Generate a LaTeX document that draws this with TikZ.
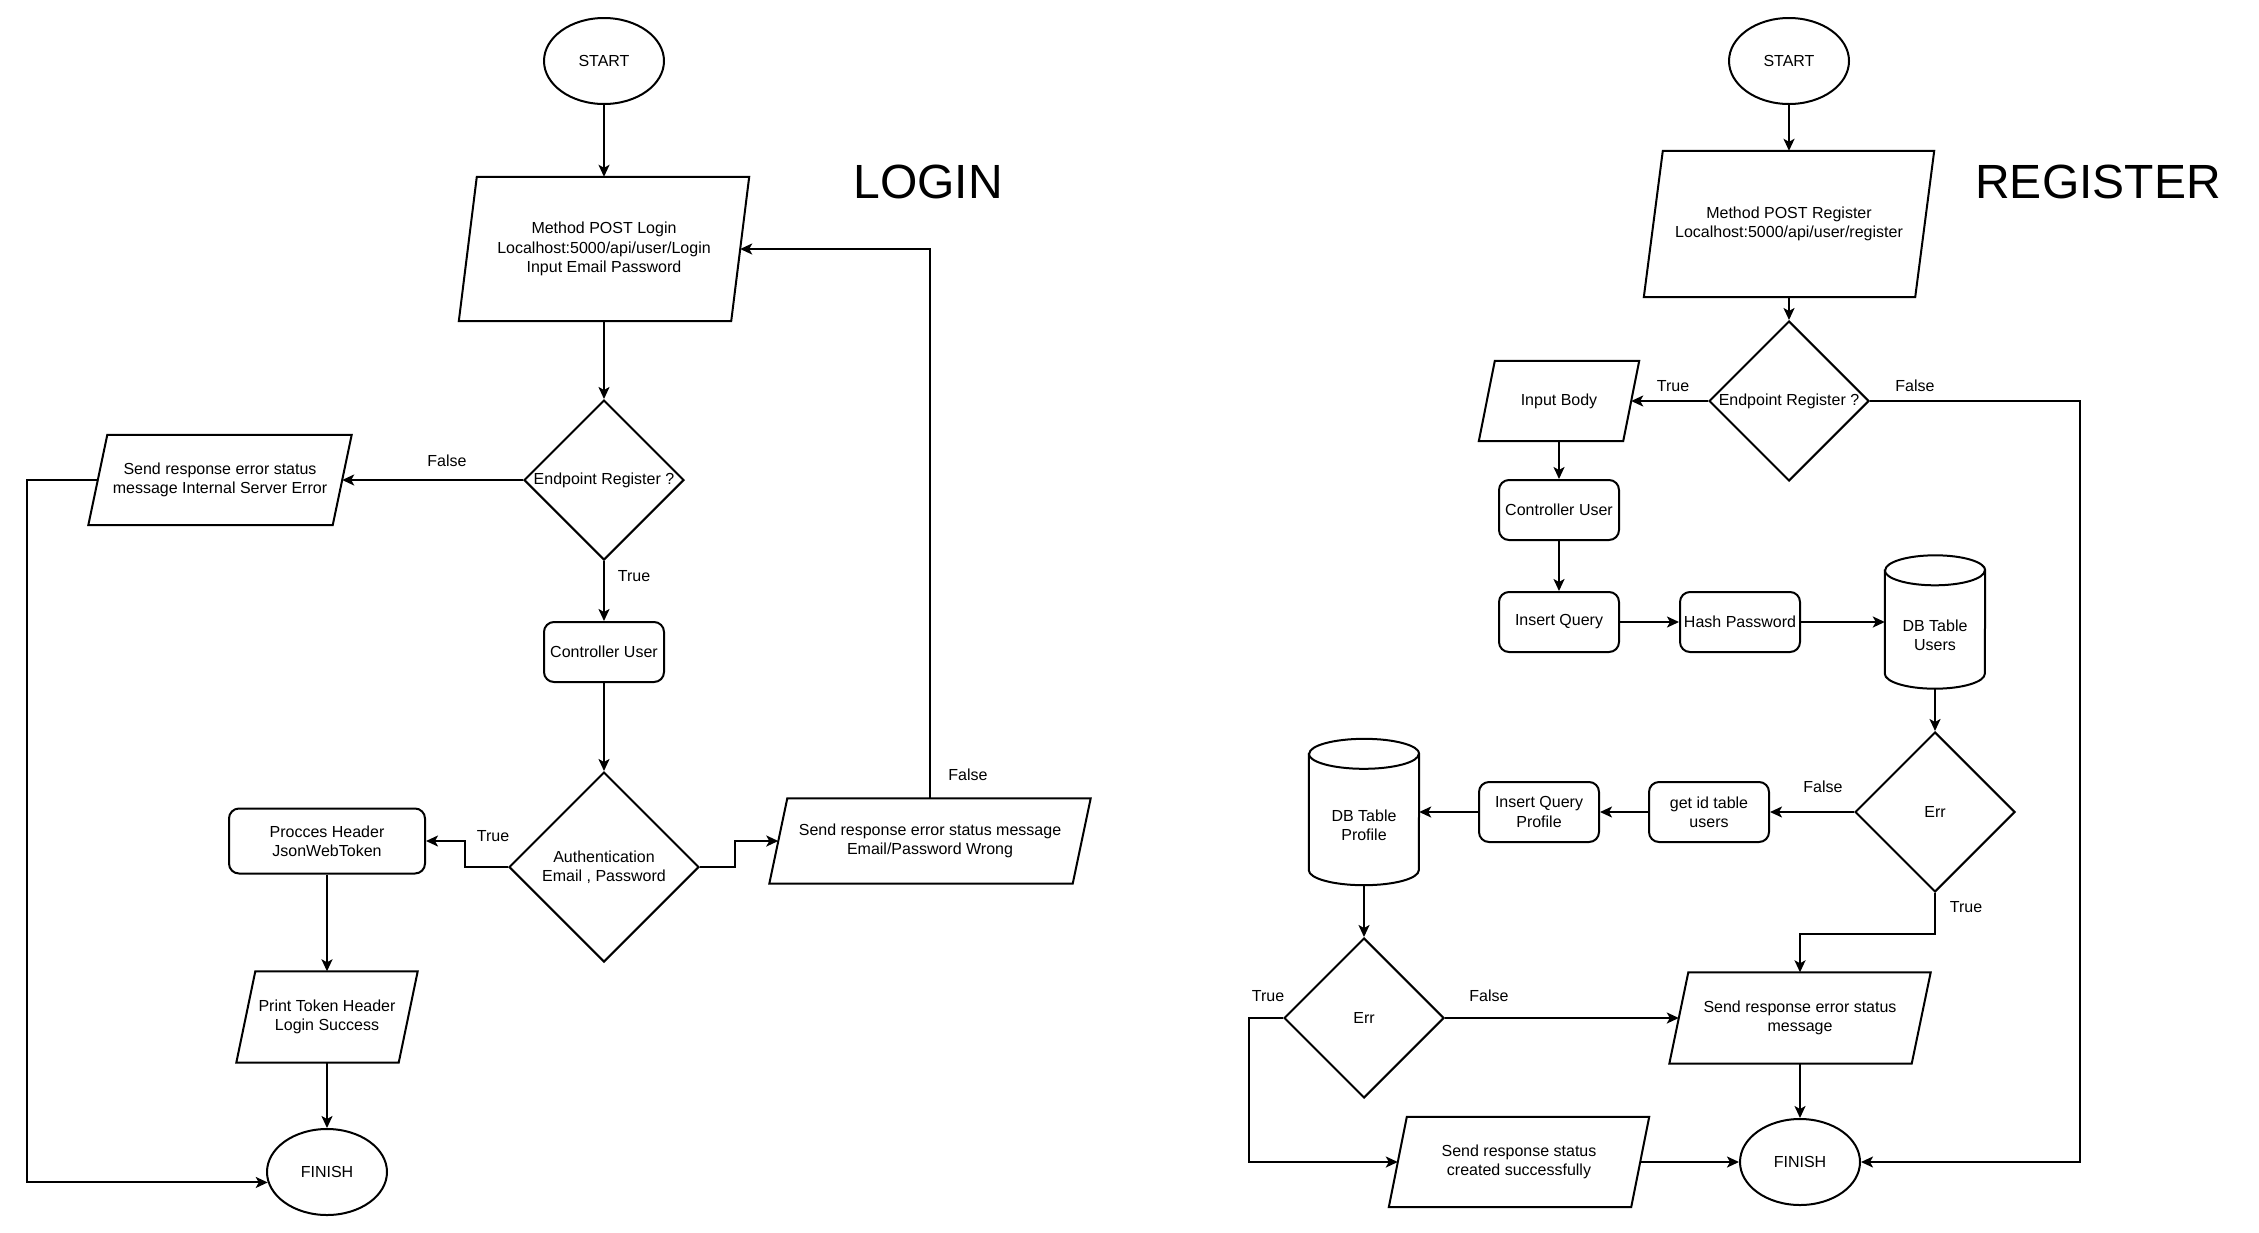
\documentclass[tikz,border=0pt]{standalone}
\usepackage{fontspec}
\setmainfont{Liberation Sans}
\usetikzlibrary{shapes.geometric,arrows.meta,calc}
\tikzset{
  txt/.style={font=\fontsize{16}{19.2}\selectfont, align=center, inner sep=0pt},
  shp/.style={line width=2pt},
  term/.style={txt, ellipse, draw, shp, minimum width=120pt, minimum height=86pt},
  proc/.style={txt, draw, shp, rounded corners=10pt, minimum width=120pt, minimum height=60pt},
  decision/.style={txt, diamond, draw, shp, aspect=1, minimum width=160pt, minimum height=160pt},
  ghost/.style={txt, draw=none},
  lbl/.style={txt},
  arr/.style={line width=2pt, -{Stealth[length=12pt,width=11pt,inset=3pt]}},
  bigtitle/.style={font=\fontsize{48}{58}\selectfont, inner sep=0pt, anchor=base},
}
\newcommand\pgram[7]{%
  \node[txt, minimum width=#4pt, minimum height=#5pt] (#1) at (#2,-#3) {#7};
  \draw[shp] ([xshift=#6pt]#1.north west) -- (#1.north east) -- ([xshift=-#6pt]#1.south east) -- (#1.south west) -- cycle;
  \coordinate (#1-w) at ([xshift=#6pt/2]#1.west);
  \coordinate (#1-e) at ([xshift=-#6pt/2]#1.east);
}
\newcommand\dbcyl[6]{%
  \node[ghost, minimum width=#4pt, minimum height=#5pt] (#1) at (#2,-#3) {};
  \draw[shp] ([yshift=-15pt]#1.north west) -- ([yshift=15pt]#1.south west)
     arc[start angle=180, end angle=360, x radius=#4pt/2, y radius=15pt]
     -- ([yshift=-15pt]#1.north east)
     arc[start angle=0, end angle=180, x radius=#4pt/2, y radius=15pt] -- cycle;
  \draw[shp] ([yshift=-15pt]#1.north west) arc[start angle=180, end angle=360, x radius=#4pt/2, y radius=15pt];
  \node[txt] (#1-t) at ([yshift=-13pt]#1.center) {#6};
}
\begin{document}
\begin{tikzpicture}[x=1pt,y=1pt]
\fill[white] (0,0) rectangle (2259,-1232);
\useasboundingbox (0,0) rectangle (2259,-1232);

% ---------------- LOGIN ----------------
\node[term] (start1) at (604,-61) {START};
\pgram{method1}{604}{249}{290}{144}{18}{Method POST Login\\Localhost:5000/api/user/Login\\Input Email Password}
\node[decision] (dec1) at (604,-480) {Endpoint Register ?};
\pgram{err1}{220}{480}{263}{90}{19}{Send response error status\\message Internal Server Error}
\node[proc] (ctrl1) at (604,-652) {Controller User};
\node[decision, minimum width=190pt, minimum height=190pt] (auth) at (604,-867) {Authentication\\Email , Password};
\node[proc, minimum width=196pt, minimum height=65pt] (phead) at (327,-841) {Procces Header\\JsonWebToken};
\pgram{wrong}{930}{841}{321}{85}{18}{Send response error status message\\Email/Password Wrong}
\pgram{print}{327}{1017}{181}{91}{19}{Print Token Header\\Login Success}
\node[term] (fin1) at (327,-1172) {FINISH};
\node[bigtitle] (tlogin) at (928,-198) {LOGIN};

\draw[arr] (start1.south) -- (method1.north);
\draw[arr] (method1.south) -- (dec1.north);
\draw[arr] (dec1.west) -- (err1-e);
\draw[arr] (dec1.south) -- (ctrl1.north);
\draw[arr] (err1-w) -- (27,0 |- err1-w) |- (fin1.190);
\draw[arr] (ctrl1.south) -- (auth.north);
\draw[arr] (auth.west) -- (465,0 |- auth.west) |- (phead.east);
\draw[arr] (auth.east) -- (735,0 |- auth.east) |- (wrong-w);
\draw[arr] (wrong.north) |- (method1-e);
\draw[arr] (phead.south) -- (print.north);
\draw[arr] (print.south) -- (fin1.north);

\node[lbl] (l1) at (447,-461) {False};
\node[lbl] (l2) at (634,-576) {True};
\node[lbl] (l3) at (493,-836) {True};
\node[lbl] (l4) at (968,-775) {False};

% ---------------- REGISTER ----------------
\node[term] (start2) at (1789,-61) {START};
\pgram{method2}{1789}{224}{290}{146}{19}{Method POST Register\\Localhost:5000/api/user/register}
\node[decision] (dec2) at (1789,-401) {Endpoint Register ?};
\pgram{inbody}{1559}{401}{160}{80}{16}{Input Body}
\node[proc] (ctrl2) at (1559,-510) {Controller User};
\node[proc] (insq) at (1559,-622) {Insert Query};
\node[proc] (hash) at (1740,-622) {Hash Password};
\dbcyl{dbu}{1935}{622}{100}{133}{DB Table\\Users}
\node[decision] (errA) at (1935,-812) {Err};
\node[proc] (getid) at (1709,-812) {get id table\\users};
\node[proc] (insqp) at (1539,-812) {Insert Query\\Profile};
\dbcyl{dbp}{1364}{812}{110}{146}{DB Table\\Profile}
\node[decision] (errB) at (1364,-1018) {Err};
\pgram{senderr}{1800}{1018}{261}{91}{19}{Send response error status\\message}
\pgram{created}{1519}{1162}{260}{90}{18}{Send response status\\created successfully}
\node[term] (fin2) at (1800,-1162) {FINISH};
\node[bigtitle] (treg) at (2098,-198) {REGISTER};

\draw[arr] (start2.south) -- (method2.north);
\draw[arr] (method2.south) -- (dec2.north);
\draw[arr] (dec2.west) -- (inbody-e);
\draw[arr] (dec2.east) -- (2080,0 |- dec2.east) |- (fin2.east);
\draw[arr] (inbody.south) -- (ctrl2.north);
\draw[arr] (ctrl2.south) -- (insq.north);
\draw[arr] (insq.east) -- (hash.west);
\draw[arr] (hash.east) -- (dbu.west);
\draw[arr] (dbu.south) -- (errA.north);
\draw[arr] (errA.west) -- (getid.east);
\draw[arr] (getid.west) -- (insqp.east);
\draw[arr] (insqp.west) -- (dbp.east);
\draw[arr] (dbp.south) -- (errB.north);
\draw[arr] (errA.south) -- ++(0,-41) -| (senderr.north);
\draw[arr] (errB.east) -- (senderr-w);
\draw[arr] (errB.west) -- (1249,0 |- errB.west) |- (created-w);
\draw[arr] (senderr.south) -- (fin2.north);
\draw[arr] (created-e) -- (fin2.west);

\node[lbl] (l5) at (1673,-386) {True};
\node[lbl] (l6) at (1915,-386) {False};
\node[lbl] (l7) at (1823,-787) {False};
\node[lbl] (l8) at (1966,-907) {True};
\node[lbl] (l9) at (1489,-996) {False};
\node[lbl] (l10) at (1268,-996) {True};
\end{tikzpicture}
\end{document}
